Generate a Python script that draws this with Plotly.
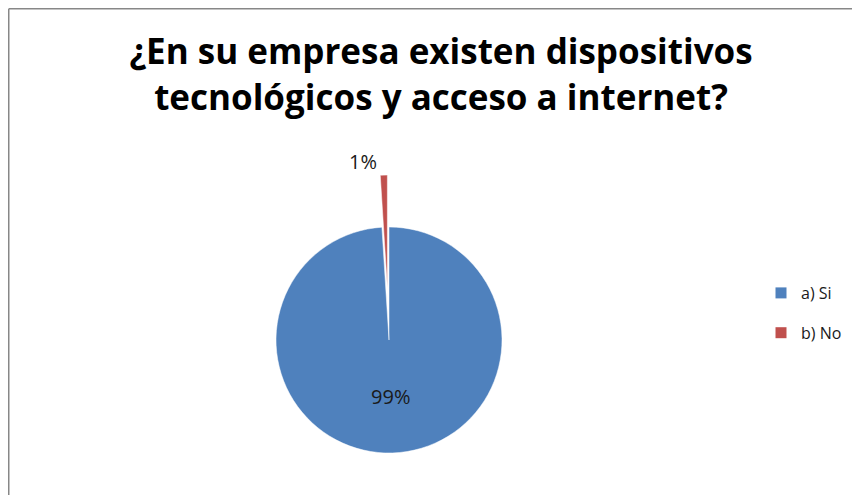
import plotly.graph_objects as go

labels = ["a) Si", "b) No"]
values = [99, 1]
colors = ["#4F81BD", "#C0504D"]
title_text = "¿En su empresa existen dispositivos<br>tecnológicos y acceso a internet?"

# figure size (page body adds an 8px offset, so this fills the 860x495 window)
W, H = 852, 520
cx, cy = 381, 332          # pie centre in figure pixels
r = 113                    # pie radius in pixels
pull_no = 0.46
half = r * (1 + pull_no)

fig = go.Figure()
fig.add_trace(go.Pie(
    labels=labels,
    values=values,
    marker=dict(colors=colors, line=dict(color="white", width=0.5)),
    sort=False,
    direction="clockwise",
    rotation=0,
    pull=[0, pull_no],
    texttemplate="%{percent:.0%}",
    textposition=["inside", "outside"],
    insidetextorientation="horizontal",
    textfont=dict(family="Open Sans", size=20, color="#1a1a1a"),
    showlegend=False,
    hoverinfo="label+percent",
    domain=dict(x=[(cx - half) / W, (cx + half) / W],
                y=[(H - cy - half) / H, (H - cy + half) / H]),
))

# legend entries (square swatches) built from the same categories
for lab, col in zip(labels, colors):
    fig.add_trace(go.Scatter(
        x=[None], y=[None], mode="markers", name=lab,
        marker=dict(symbol="square", size=11, color=col),
        legendgroup=lab, showlegend=True, hoverinfo="skip",
    ))

fig.update_layout(
    width=W, height=H,
    margin=dict(l=0, r=0, t=0, b=0, autoexpand=False),
    paper_bgcolor="white", plot_bgcolor="white",
    xaxis=dict(visible=False), yaxis=dict(visible=False),
    title=dict(text=title_text, x=433 / W, xanchor="center",
               y=1 - 56 / H, yanchor="top", yref="container",
               font=dict(family="Open Sans", size=35, color="#000000", weight="bold")),
    legend=dict(x=753 / W, xanchor="left", y=1 - 305 / H, yanchor="middle",
                font=dict(family="Open Sans", size=16, color="#1a1a1a"),
                tracegroupgap=16, itemwidth=30, bgcolor="rgba(0,0,0,0)"),
    shapes=[
        dict(type="line", xref="paper", yref="paper", x0=0.75 / W, x1=1.01,
             y0=1 - 0.75 / H, y1=1 - 0.75 / H, line=dict(color="#878787", width=1.5)),
        dict(type="line", xref="paper", yref="paper", x0=0.75 / W, x1=0.75 / W,
             y0=-0.01, y1=1 - 0.75 / H, line=dict(color="#878787", width=1.5)),
    ],
)

fig.write_html("out.html")
